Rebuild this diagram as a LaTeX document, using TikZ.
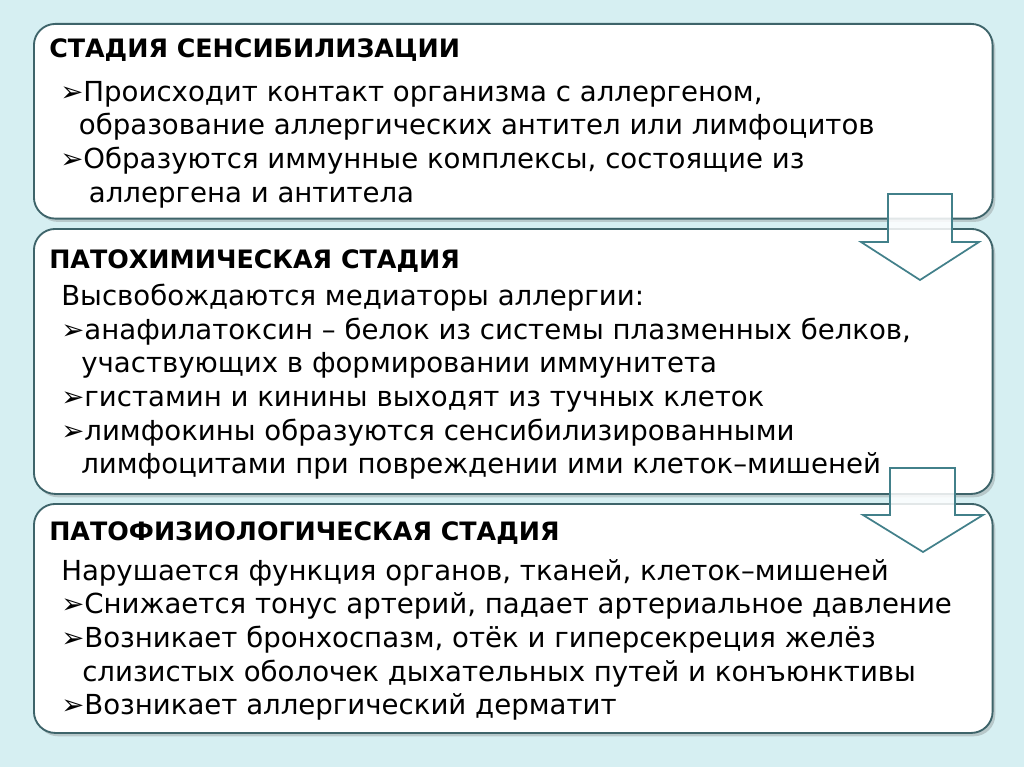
\documentclass[tikz,border=0pt]{standalone}
\usepackage{fontspec}
\setmainfont{DejaVu Sans}
\usepackage{tikz}
\usetikzlibrary{shadows}
\definecolor{slidebg}{RGB}{214,239,242}
\definecolor{stageframe}{RGB}{62,100,106}
\definecolor{flowline}{RGB}{66,128,138}
\tikzstyle{stage} = [rectangle, rounded corners=16pt, draw=stageframe, line width=1.4pt, fill=white, drop shadow={opacity=0.35, shadow xshift=2pt, shadow yshift=-2.5pt}, anchor=north west, minimum width=719pt]
\tikzstyle{title} = [anchor=base west, inner sep=0pt, font=\bfseries\fontsize{19pt}{22pt}\selectfont]
\tikzstyle{body} = [anchor=north west, inner sep=0pt, align=left, font=\fontsize{20.7pt}{25.2pt}\selectfont]
\tikzstyle{flow} = [draw=flowline, line width=1.3pt, fill=white, fill opacity=0.85, line join=miter]
\newcommand{\pt}{{\bfseries ➢}}

\begin{document}
\begin{tikzpicture}[x=0.75pt, y=-0.75pt]
    % slide background
    \fill[slidebg] (0,0) rectangle (1024,767);
    \useasboundingbox (0,0) rectangle (1024,767);

    % Sensitisation stage
    \node (sens) [stage, minimum height=146pt] at (33,23) {};
    \node (sensT) [title] at (49,58) {СТАДИЯ СЕНСИБИЛИЗАЦИИ};
    \node (sensB) [body] at (60,81) {
        \pt Происходит контакт организма с аллергеном,\\
        \hspace*{14pt}образование аллергических антител или лимфоцитов\\
        \pt Образуются иммунные комплексы, состоящие из\\
        \hspace*{21.5pt}аллергена и антитела
    };

    % Pathochemical stage
    \node (chem) [stage, minimum height=198.75pt] at (33,228) {};
    \node (chemT) [title] at (49,268) {ПАТОХИМИЧЕСКАЯ СТАДИЯ};
    \node (chemB) [body] at (61,284) {
        Высвобождаются медиаторы аллергии:\\
        \pt анафилатоксин – белок из системы плазменных белков,\\
        \hspace*{15pt}участвующих в формировании иммунитета\\
        \pt гистамин и кинины выходят из тучных клеток\\
        \pt лимфокины образуются сенсибилизированными\\
        \hspace*{15pt}лимфоцитами при повреждении ими клеток–мишеней
    };

    % Pathophysiological stage
    \node (phys) [stage, minimum height=171.75pt] at (33,503) {};
    \node (physT) [title] at (49,540) {ПАТОФИЗИОЛОГИЧЕСКАЯ СТАДИЯ};
    \node (physB) [body] at (61,559) {
        Нарушается функция органов, тканей, клеток–мишеней\\
        \pt Снижается тонус артерий, падает артериальное давление\\
        \pt Возникает бронхоспазм, отёк и гиперсекреция желёз\\
        \hspace*{15.75pt}слизистых оболочек дыхательных путей и конъюнктивы\\
        \pt Возникает аллергический дерматит
    };

    % block arrows between stages
    \coordinate (go1) at (920,194);
    \coordinate (go2) at (922,468);
    \draw [flow] (go1) ++(-32,0) -- ++(64,0) -- ++(0,48) -- ++(27,0) -- ++(-59,38) -- ++(-59,-38) -- ++(27,0) -- cycle;
    \draw [flow] (go2) ++(-32,0) -- ++(65,0) -- ++(0,47) -- ++(28,0) -- ++(-60,37) -- ++(-60,-37) -- ++(27,0) -- cycle;
\end{tikzpicture}
\end{document}
